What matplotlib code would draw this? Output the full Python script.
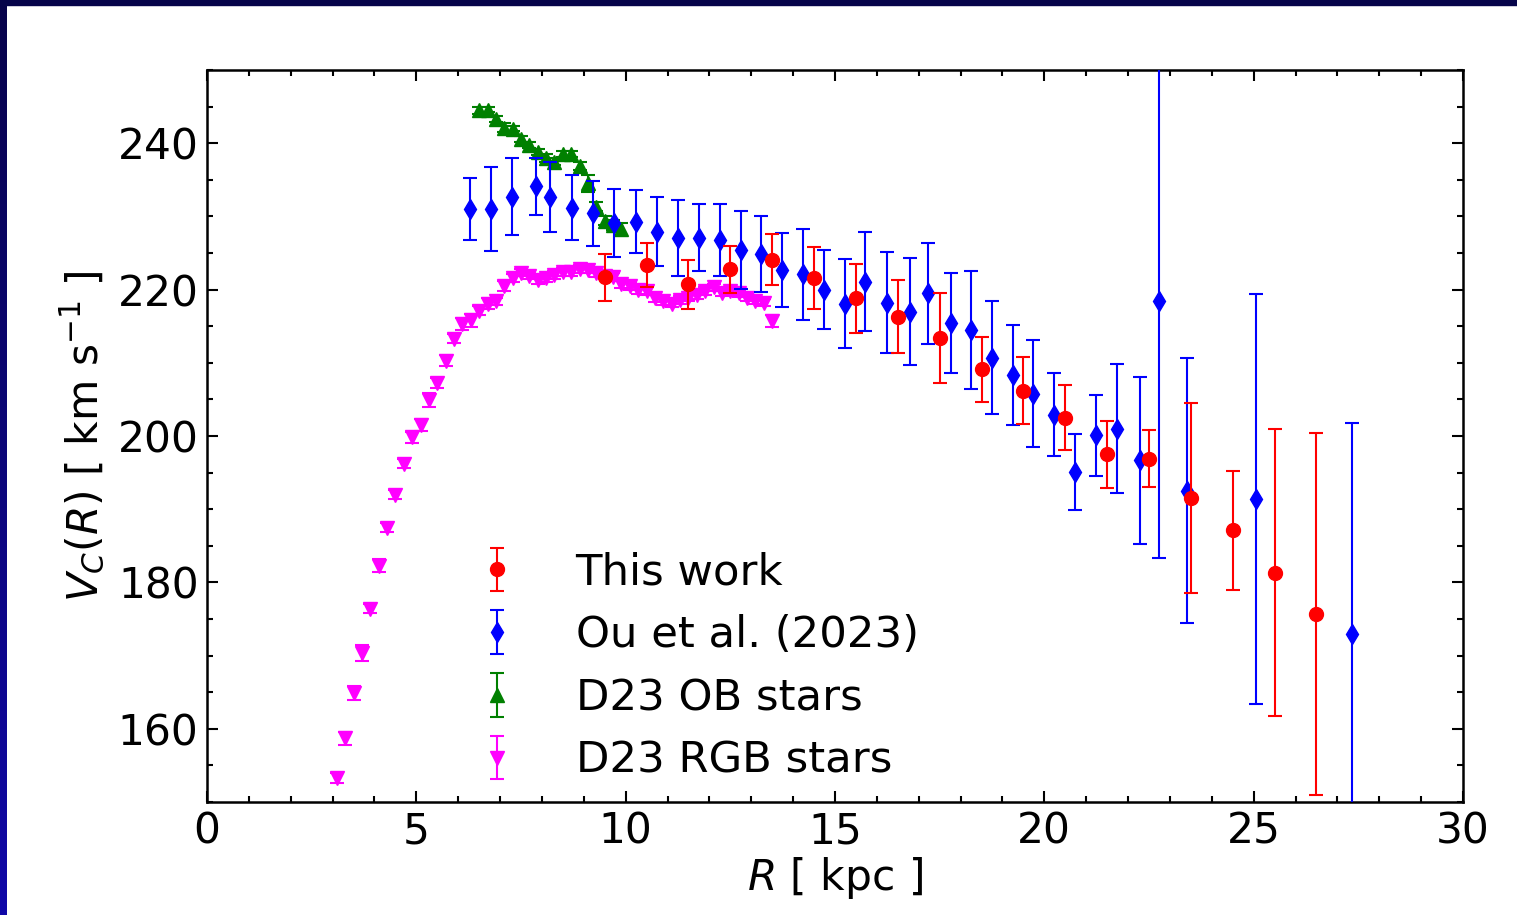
# rotation curve comparison plot
import numpy as np
import matplotlib
import matplotlib.pyplot as plt

matplotlib.use("agg")

# ---- data ----
# This work
r_this = [9.5, 10.5, 11.5, 12.5, 13.5, 14.5, 15.5, 16.5, 17.5, 18.5,
          19.5, 20.5, 21.5, 22.5, 23.5, 24.5, 25.5, 26.5]
v_this = [221.7, 223.3, 220.7, 222.8, 224.1, 221.6, 218.8, 216.3, 213.4, 209.1,
          206.2, 202.5, 197.5, 196.9, 191.5, 187.1, 181.3, 175.7]
e_this = [3.2, 3.0, 3.4, 3.2, 3.5, 4.2, 4.7, 5.0, 6.1, 4.4,
          4.6, 4.4, 4.6, 3.9, 13.0, 8.1, 19.6, 24.7]

# Ou et al. (2023)
r_ou = [6.28, 6.78, 7.29, 7.87, 8.20, 8.72, 9.23, 9.72, 10.25, 10.75,
        11.24, 11.74, 12.25, 12.75, 13.24, 13.73, 14.23, 14.74, 15.25, 15.72,
        16.25, 16.78, 17.23, 17.78, 18.24, 18.75, 19.24, 19.73, 20.23, 20.74,
        21.23, 21.74, 22.28, 22.73, 23.41, 25.05, 27.34]
v_ou = [231.0, 231.0, 232.7, 234.1, 232.7, 231.2, 230.4, 229.1, 229.3, 227.9,
        227.1, 227.1, 226.8, 225.4, 224.9, 222.7, 222.1, 220.0, 218.1, 221.1,
        218.2, 217.0, 219.5, 215.4, 214.5, 210.7, 208.3, 205.8, 202.9, 195.1,
        200.1, 201.0, 196.7, 218.5, 192.5, 191.4, 172.9]
e_ou = [4.2, 5.7, 5.3, 3.9, 4.8, 4.4, 4.5, 4.7, 4.3, 4.7,
        5.2, 4.6, 4.9, 5.3, 5.2, 5.1, 6.2, 5.4, 6.1, 6.8,
        6.9, 7.3, 6.9, 6.8, 8.1, 7.7, 6.8, 7.3, 5.7, 5.2,
        5.5, 8.8, 11.4, 35.2, 18.1, 28.0, 28.9]

# D23 OB stars
r_ob = [6.5, 6.7, 6.9, 7.1, 7.3, 7.5, 7.7, 7.9, 8.1, 8.3,
        8.5, 8.7, 8.9, 9.1, 9.3, 9.5, 9.7, 9.9]
v_ob = [244.5, 244.6, 243.3, 242.1, 242.0, 240.6, 239.7, 238.8, 238.0, 237.5,
        238.5, 238.5, 236.9, 234.5, 231.3, 229.4, 228.8, 228.3]
e_ob = [0.5, 0.4, 0.4, 0.6, 0.4, 0.4, 0.4, 0.4, 0.5, 0.5,
        0.4, 0.4, 0.5, 1.1, 0.6, 0.6, 0.7, 0.8]

# D23 RGB stars
r_rgb = [3.1, 3.3, 3.5, 3.7, 3.9, 4.1, 4.3, 4.5, 4.7, 4.9,
         5.1, 5.3, 5.5, 5.7, 5.9, 6.1, 6.3, 6.5, 6.7, 6.9,
         7.1, 7.3, 7.5, 7.7, 7.9, 8.1, 8.3, 8.5, 8.7, 8.9,
         9.1, 9.3, 9.5, 9.7, 9.9, 10.1, 10.3, 10.5, 10.7, 10.9,
         11.1, 11.3, 11.5, 11.7, 11.9, 12.1, 12.3, 12.5, 12.7, 12.9,
         13.1, 13.3, 13.5]
v_rgb = [153.3, 158.7, 164.9, 170.3, 176.4, 182.3, 187.5, 192.0, 196.2, 199.8,
         201.5, 204.9, 207.2, 210.3, 213.3, 215.3, 215.8, 217.1, 218.1, 218.4,
         220.5, 221.6, 222.3, 221.9, 221.3, 221.6, 222.0, 222.4, 222.4, 222.8,
         222.7, 222.2, 221.9, 221.7, 220.7, 220.5, 219.9, 219.8, 218.8, 218.4,
         218.1, 218.6, 218.9, 219.2, 219.8, 220.3, 219.6, 219.8, 219.5, 218.9,
         218.5, 218.2, 215.7]
e_rgb = [0.7, 0.9, 1.0, 1.1, 0.6, 0.9, 0.6, 0.6, 0.6, 0.7,
         0.8, 1.0, 0.7, 0.7, 0.6, 0.8, 0.9, 0.6, 0.7, 0.5,
         0.7, 0.5, 0.5, 0.5, 0.5, 0.5, 0.5, 0.5, 0.5, 0.5,
         0.5, 0.5, 0.5, 0.5, 0.5, 0.5, 0.5, 0.5, 0.5, 0.5,
         0.5, 0.5, 0.5, 0.5, 0.5, 0.5, 0.5, 0.5, 0.5, 0.5,
         0.5, 0.5, 0.8]

FS = 30.5

fig = plt.figure(figsize=(15.17, 9.15), dpi=100)

# dark frame strips (top + left gradient)
fig.patches.append(plt.Rectangle((0, 1 - 5 / 915), 1, 5 / 915, transform=fig.transFigure,
                                 color="#06044a", zorder=0))
strip = fig.add_axes([0, 0, 7 / 1517, 1])
grad = np.linspace(0, 1, 256).reshape(-1, 1)
strip.imshow(grad, aspect="auto", origin="upper",
             cmap=matplotlib.colors.LinearSegmentedColormap.from_list("edge", ["#07034a", "#1008a8"]))
strip.axis("off")

ax = fig.add_axes([207 / 1517, 1 - 802 / 915, 1256 / 1517, 732 / 915])

kw = dict(ls="none", ms=10, capsize=5, elinewidth=1.5, capthick=1.5)
h_ou = ax.errorbar(r_ou, v_ou, yerr=e_ou, fmt="d", color="blue", zorder=3, **kw)
h_ob = ax.errorbar(r_ob, v_ob, yerr=e_ob, fmt="^", color="green", zorder=2, **kw)
h_rgb = ax.errorbar(r_rgb, v_rgb, yerr=e_rgb, fmt="v", color="magenta", zorder=2, **kw)
h_this = ax.errorbar(r_this, v_this, yerr=e_this, fmt="o", color="red", zorder=4, **kw)

ax.set_xlim(0, 30)
ax.set_ylim(150, 250)
ax.set_xticks(np.arange(0, 31, 5))
ax.set_yticks([160, 180, 200, 220, 240])
ax.set_xticks(np.arange(0, 31, 1), minor=True)
ax.set_yticks(np.arange(150, 251, 5), minor=True)
ax.tick_params(which="both", direction="in", top=True, right=True, width=1.5,
               labelsize=FS)
ax.tick_params(which="major", length=8, pad=6)
ax.tick_params(which="minor", length=4.5)
for s in ax.spines.values():
    s.set_linewidth(1.8)

ax.set_xlabel("$R$ [ kpc ]", fontsize=FS, labelpad=2)
ax.set_ylabel("$V_C(R)$ [ km s$^{-1}$ ]", fontsize=FS, labelpad=8)

ax.legend([h_this, h_ou, h_ob, h_rgb],
          ["This work", "Ou et al. (2023)", "D23 OB stars", "D23 RGB stars"],
          loc="lower left", bbox_to_anchor=(0.172, -0.014), frameon=False,
          fontsize=31.2, handletextpad=0.82, labelspacing=0.48, borderaxespad=0.3)

fig.savefig("out.png", dpi=100)
